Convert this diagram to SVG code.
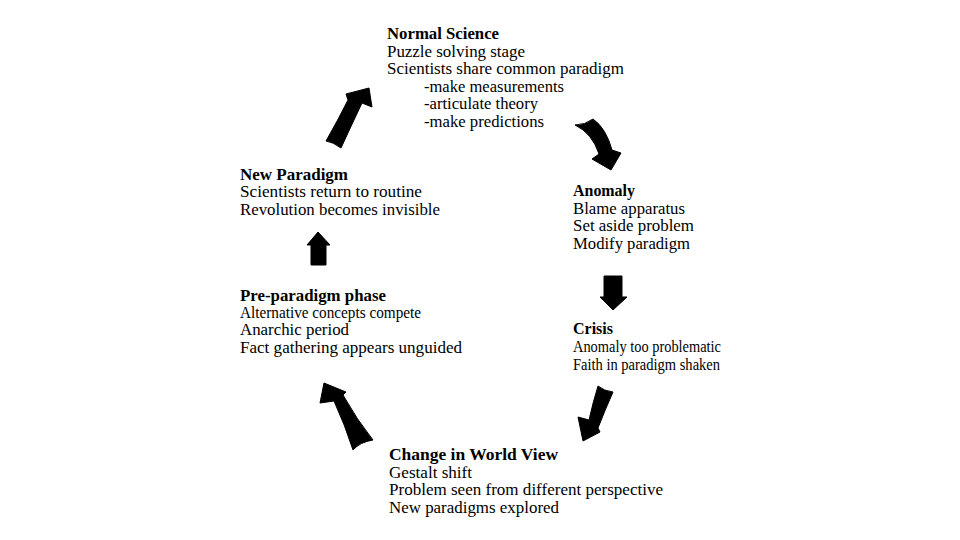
<svg xmlns="http://www.w3.org/2000/svg" width="960" height="540" viewBox="0 0 960 540">
<style>
text{font-family:"Liberation Serif","Times New Roman",serif;font-size:16px;fill:#000}
.b{font-weight:bold}
.arrow{fill:#000;stroke:#000;stroke-width:1;stroke-linejoin:round}
</style>
<rect width="960" height="540" fill="#fff"/>
<g id="normal-science">
<text class="b" x="387" y="39" textLength="112" lengthAdjust="spacingAndGlyphs">Normal Science</text>
<text x="387" y="57" textLength="138" lengthAdjust="spacingAndGlyphs">Puzzle solving stage</text>
<text x="387" y="74" textLength="237" lengthAdjust="spacingAndGlyphs">Scientists share common paradigm</text>
<text x="424" y="92" textLength="140" lengthAdjust="spacingAndGlyphs">-make measurements</text>
<text x="424" y="109" textLength="114" lengthAdjust="spacingAndGlyphs">-articulate theory</text>
<text x="424" y="127" textLength="120" lengthAdjust="spacingAndGlyphs">-make predictions</text>
</g>
<g id="new-paradigm">
<text class="b" x="240" y="180" textLength="108" lengthAdjust="spacingAndGlyphs">New Paradigm</text>
<text x="240" y="197" textLength="182" lengthAdjust="spacingAndGlyphs">Scientists return to routine</text>
<text x="240" y="215" textLength="200" lengthAdjust="spacingAndGlyphs">Revolution becomes invisible</text>
</g>
<g id="anomaly">
<text class="b" x="573" y="196" textLength="62" lengthAdjust="spacingAndGlyphs">Anomaly</text>
<text x="573" y="214" textLength="112" lengthAdjust="spacingAndGlyphs">Blame apparatus</text>
<text x="573" y="231" textLength="121" lengthAdjust="spacingAndGlyphs">Set aside problem</text>
<text x="573" y="249" textLength="117" lengthAdjust="spacingAndGlyphs">Modify paradigm</text>
</g>
<g id="pre-paradigm">
<text class="b" x="240" y="301" textLength="146" lengthAdjust="spacingAndGlyphs">Pre-paradigm phase</text>
<text x="240" y="318" textLength="181" lengthAdjust="spacingAndGlyphs">Alternative concepts compete</text>
<text x="240" y="335" textLength="109" lengthAdjust="spacingAndGlyphs">Anarchic period</text>
<text x="240" y="353" textLength="222" lengthAdjust="spacingAndGlyphs">Fact gathering appears unguided</text>
</g>
<g id="crisis">
<text class="b" x="573" y="334" textLength="40" lengthAdjust="spacingAndGlyphs">Crisis</text>
<text x="573" y="352" textLength="148" lengthAdjust="spacingAndGlyphs">Anomaly too problematic</text>
<text x="573" y="370" textLength="147" lengthAdjust="spacingAndGlyphs">Faith in paradigm shaken</text>
</g>
<g id="change-world-view">
<text class="b" x="389" y="460" textLength="169" lengthAdjust="spacingAndGlyphs">Change in World View</text>
<text x="389" y="478" textLength="83" lengthAdjust="spacingAndGlyphs">Gestalt shift</text>
<text x="389" y="495" textLength="274" lengthAdjust="spacingAndGlyphs">Problem seen from different perspective</text>
<text x="389" y="513" textLength="170" lengthAdjust="spacingAndGlyphs">New paradigms explored</text>
</g>
<g id="connectors">
<!-- New Paradigm -> Normal Science -->
<path class="arrow" d="M326,141 Q338,120 348,100 L346,94 L369,88 L372,107 L362,103 Q352,124 341,148 Q333,142 326,141 Z"/>
<!-- Normal Science -> Anomaly -->
<path class="arrow" d="M575,125 Q592,133 599,154 L592,159 L611,170 L621,153 L612,150 Q606,128 593,119 Q585,125 575,125 Z"/>
<!-- Anomaly -> Crisis -->
<path class="arrow" d="M604,276 L622,276 L622,297 L627,297 L613,310 L600,297 L604,297 Z"/>
<!-- Crisis -> Change -->
<path class="arrow" d="M598,386 Q593,402 589,420 L578,417 L583,441 L600,432 L598,428 Q605,410 613,392 Q604,391 598,386 Z"/>
<!-- Change -> Pre-paradigm -->
<path class="arrow" d="M353,450 Q345,425 334,401 L320,403 L324,383 L346,392 L343,395 Q357,420 373,440 Q360,442 353,450 Z"/>
<!-- Pre-paradigm -> New Paradigm -->
<path class="arrow" d="M311,265 L311,245 L307,245 L318,232 L330,245 L326,245 L326,265 Z"/>
</g>
</svg>
